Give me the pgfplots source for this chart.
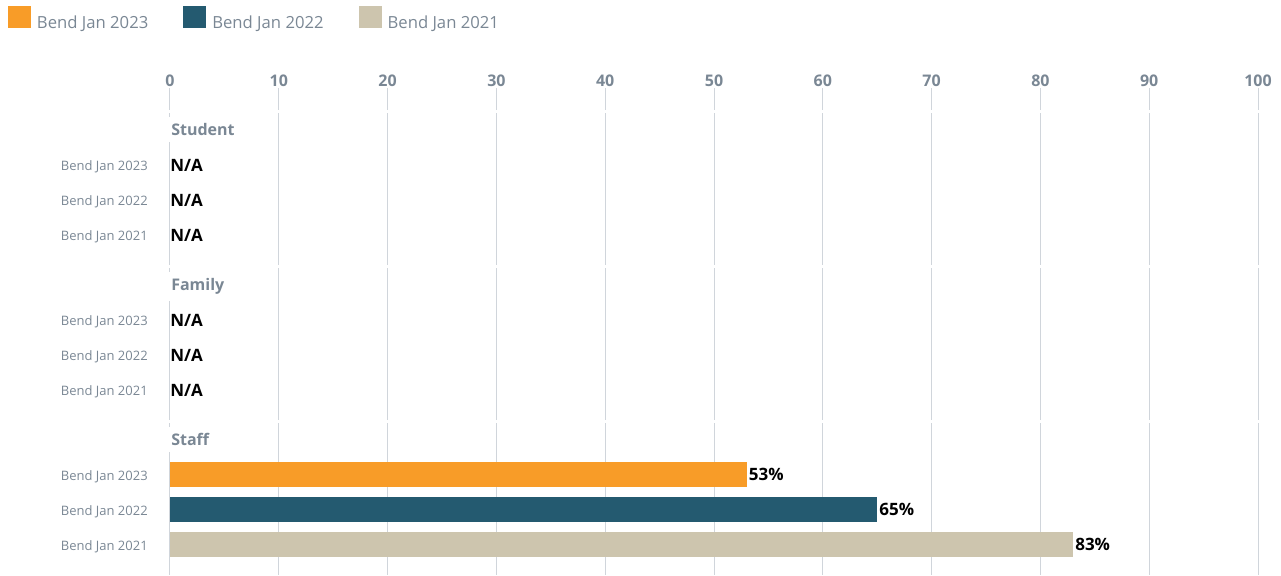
\documentclass[border=0pt]{standalone}
\usepackage{fontspec}
\setmainfont{Open Sans}
\usepackage{pgfplots}
\pgfplotsset{compat=1.18}
\definecolor{corange}{HTML}{F89C28}
\definecolor{cteal}{HTML}{245A70}
\definecolor{cbeige}{HTML}{CDC5AE}
\definecolor{ctext}{HTML}{7A8794}
\definecolor{cgrid}{HTML}{D0D5DB}
\begin{document}
\begin{tikzpicture}
\begin{axis}[
  scale only axis, width=816pt, height=365.25pt,
  xmin=0, xmax=100, ymin=88, ymax=575, y dir=reverse,
  clip=false,
  axis line style={draw=none},
  major tick length=0pt,
  xmajorgrids, grid style={cgrid, line width=0.75pt},
  xtick={0,10,...,100},
  xticklabel pos=upper,
  xticklabel style={anchor=base, yshift=1pt, inner sep=0pt, font=\bfseries\fontsize{12}{14}\selectfont, text=ctext},
  ytick={165,200,235,320,355,390,475,510,545},
  yticklabels={Bend Jan 2023,Bend Jan 2022,Bend Jan 2021,Bend Jan 2023,Bend Jan 2022,Bend Jan 2021,Bend Jan 2023,Bend Jan 2022,Bend Jan 2021},
  yticklabel style={anchor=base east, inner sep=0pt, xshift=-16.5pt, yshift=-3.75pt, font=\fontsize{9.75}{12}\selectfont, text=ctext},
  /pgf/number format/assume math mode=true,
  xbar, bar width=25,
  point meta=x,
  nodes near coords={\pgfmathprintnumber[fixed,precision=0]{\pgfplotspointmeta}\%},
  every node near coord/.append style={font=\bfseries\fontsize{12.75}{15}\selectfont, text=black, anchor=west, inner sep=0pt, xshift=1.5pt},
  legend style={at={(axis cs:-14.89,6)}, anchor=north west, draw=none, fill=none, inner sep=0pt, outer sep=0pt,
    font=\fontsize{12.5}{15}\selectfont, text=ctext, legend columns=-1,
    /tikz/every odd column/.append style={column sep=2.5pt},
    /tikz/every even column/.append style={column sep=24.25pt}},
  legend cell align=left,
  legend image code/.code={\fill[#1] (0pt,-3.75pt) rectangle (17.25pt,12.75pt);},
]
\addplot[fill=corange, draw=none, bar shift=0pt] coordinates {(53,474.5)};
\addlegendentry{Bend Jan 2023}
\addplot[fill=cteal, draw=none, bar shift=0pt] coordinates {(65,509.5)};
\addlegendentry{Bend Jan 2022}
\addplot[fill=cbeige, draw=none, bar shift=0pt] coordinates {(83,544.5)};
\addlegendentry{Bend Jan 2021}

\draw[white, line width=2.25pt] (axis cs:-2,111.5) -- (axis cs:102,111.5);
\draw[white, line width=2.25pt] (axis cs:-2,266.5) -- (axis cs:102,266.5);
\draw[white, line width=2.25pt] (axis cs:-2,421) -- (axis cs:102,421);

\tikzset{hdr/.style={anchor=base west, fill=white, inner xsep=1.5pt, inner ysep=5pt, font=\bfseries\fontsize{12}{14}\selectfont, text=ctext},
  na/.style={anchor=base west, inner sep=0pt, font=\bfseries\fontsize{12.75}{15}\selectfont, text=black}}
\node[hdr] at (axis cs:-0.092,135.5) {Student};
\node[hdr] at (axis cs:-0.092,290.5) {Family};
\node[hdr] at (axis cs:-0.092,445.5) {Staff};
\node[na] at (axis cs:0,171) {N/A};
\node[na] at (axis cs:0,206) {N/A};
\node[na] at (axis cs:0,241) {N/A};
\node[na] at (axis cs:0,326) {N/A};
\node[na] at (axis cs:0,361) {N/A};
\node[na] at (axis cs:0,396) {N/A};

\coordinate (bbsw) at (axis cs:-15.625,575);
\coordinate (bbne) at (axis cs:102.114,0);
\end{axis}
\pgfresetboundingbox
\path[use as bounding box] (bbsw) rectangle (bbne);
\end{tikzpicture}
\end{document}
